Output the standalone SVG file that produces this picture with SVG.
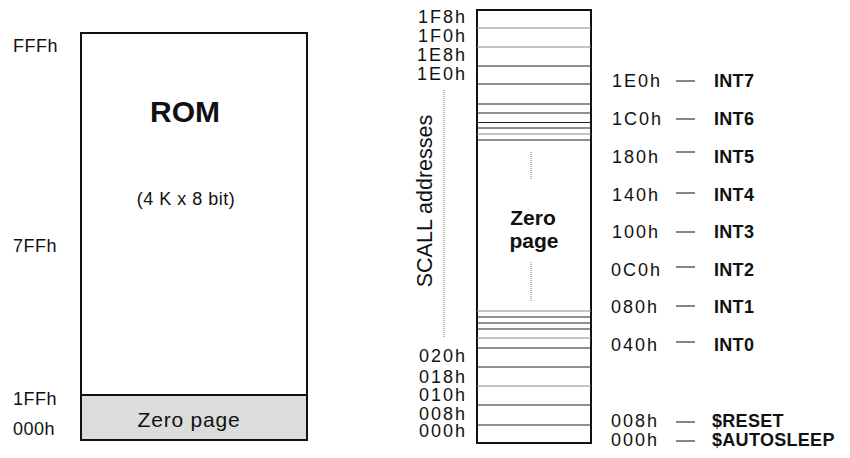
<svg xmlns="http://www.w3.org/2000/svg" width="850" height="458" viewBox="0 0 850 458">
<style>
text{font-family:"Liberation Sans",Arial,sans-serif;fill:#111}
.addr{font-size:18px;letter-spacing:0.5px}
.hex{font-size:18px;letter-spacing:2px}
.int{font-size:18px;font-weight:bold;letter-spacing:0.3px}
.box{fill:#fff;stroke:#111;stroke-width:2}
.ln{stroke:#222;stroke-width:1.2}
.lg{stroke:#888;stroke-width:1.2}
.dot{stroke:#777;stroke-width:1;stroke-dasharray:1 1}
.dash{stroke:#444;stroke-width:1.3}
</style>
<rect width="850" height="458" fill="#fff"/>

<g id="rom">
<rect class="box" x="81" y="33" width="226" height="407"/>
<rect x="81" y="395" width="226" height="45" fill="#dcdcdc" stroke="#111" stroke-width="2"/>
<text x="185" y="122" font-size="30" font-weight="bold" text-anchor="middle">ROM</text>
<text x="186" y="205" font-size="18" letter-spacing="0.5" text-anchor="middle">(4 K x 8 bit)</text>
<text x="189" y="427" font-size="21" letter-spacing="0.8" text-anchor="middle">Zero page</text>
</g>

<g id="rom-addresses">
<text class="addr" x="13" y="52">FFFh</text>
<text class="addr" x="13" y="252">7FFh</text>
<text class="addr" x="13" y="405">1FFh</text>
<text class="addr" x="13" y="435">000h</text>
</g>

<g id="zeropage">
<rect class="box" x="477" y="10" width="114" height="433"/>
<line class="lg" x1="477" y1="28" x2="591" y2="28"/>
<line class="lg" x1="477" y1="47" x2="591" y2="47"/>
<line class="ln" x1="477" y1="66" x2="591" y2="66"/>
<line class="ln" x1="477" y1="84" x2="591" y2="84"/>
<line class="ln" x1="477" y1="104" x2="591" y2="104"/>
<line class="ln" x1="477" y1="113" x2="591" y2="113"/>
<line class="ln" x1="477" y1="122.5" x2="591" y2="122.5"/>
<line class="ln" x1="477" y1="128" x2="591" y2="128"/>
<line class="lg" x1="477" y1="134" x2="591" y2="134"/>
<line class="ln" x1="477" y1="140" x2="591" y2="140"/>
<line class="lg" x1="477" y1="311" x2="591" y2="311"/>
<line class="ln" x1="477" y1="317" x2="591" y2="317"/>
<line class="ln" x1="477" y1="323" x2="591" y2="323"/>
<line class="ln" x1="477" y1="329" x2="591" y2="329"/>
<line class="lg" x1="477" y1="338" x2="591" y2="338"/>
<line class="ln" x1="477" y1="348" x2="591" y2="348"/>
<line class="ln" x1="477" y1="367" x2="591" y2="367"/>
<line class="lg" x1="477" y1="386" x2="591" y2="386"/>
<line class="ln" x1="477" y1="405" x2="591" y2="405"/>
<line class="ln" x1="477" y1="425" x2="591" y2="425"/>
<line class="dot" x1="531" y1="152" x2="531" y2="180"/>
<line class="dot" x1="531" y1="262" x2="531" y2="302"/>
<text x="533" y="225" font-size="21" font-weight="bold" text-anchor="middle">Zero</text>
<text x="534" y="248" font-size="21" font-weight="bold" text-anchor="middle">page</text>
</g>

<g id="zeropage-addresses">
<text class="hex" x="467" y="23" text-anchor="end">1F8h</text>
<text class="hex" x="467" y="42" text-anchor="end">1F0h</text>
<text class="hex" x="467" y="61" text-anchor="end">1E8h</text>
<text class="hex" x="467" y="80" text-anchor="end">1E0h</text>
<text class="hex" x="467" y="362" text-anchor="end">020h</text>
<text class="hex" x="467" y="383" text-anchor="end">018h</text>
<text class="hex" x="467" y="401" text-anchor="end">010h</text>
<text class="hex" x="467" y="420" text-anchor="end">008h</text>
<text class="hex" x="467" y="437" text-anchor="end">000h</text>
</g>

<g id="scall">
<line class="dot" x1="444" y1="90" x2="444" y2="337"/>
<text transform="translate(432,201) rotate(-90)" font-size="21.5" text-anchor="middle">SCALL addresses</text>
</g>

<g id="vectors">
<text class="hex" x="612" y="87">1E0h</text>
<text class="hex" x="612" y="125">1C0h</text>
<text class="hex" x="612" y="163">180h</text>
<text class="hex" x="612" y="201">140h</text>
<text class="hex" x="612" y="238">100h</text>
<text class="hex" x="611" y="276">0C0h</text>
<text class="hex" x="611" y="313">080h</text>
<text class="hex" x="611" y="351">040h</text>
<text class="hex" x="611" y="427">008h</text>
<text class="hex" x="611" y="446">000h</text>
<text class="int" x="714" y="87">INT7</text>
<text class="int" x="714" y="125">INT6</text>
<text class="int" x="714" y="163">INT5</text>
<text class="int" x="714" y="201">INT4</text>
<text class="int" x="714" y="238">INT3</text>
<text class="int" x="714" y="276">INT2</text>
<text class="int" x="714" y="313">INT1</text>
<text class="int" x="714" y="351">INT0</text>
<text class="int" x="712" y="427">$RESET</text>
<text class="int" x="712" y="446">$AUTOSLEEP</text>
</g>

<g id="connectors">
<line class="dash" x1="676" y1="81" x2="695" y2="81"/>
<line class="dash" x1="676" y1="119" x2="695" y2="119"/>
<line class="dash" x1="676" y1="152" x2="695" y2="152"/>
<line class="dash" x1="676" y1="193" x2="695" y2="193"/>
<line class="dash" x1="676" y1="232" x2="695" y2="232"/>
<line class="dash" x1="676" y1="267" x2="695" y2="267"/>
<line class="dash" x1="676" y1="306" x2="695" y2="306"/>
<line class="dash" x1="676" y1="342" x2="695" y2="342"/>
<line class="dash" x1="676" y1="422" x2="695" y2="422"/>
<line class="dash" x1="676" y1="441" x2="695" y2="441"/>
</g>
</svg>
